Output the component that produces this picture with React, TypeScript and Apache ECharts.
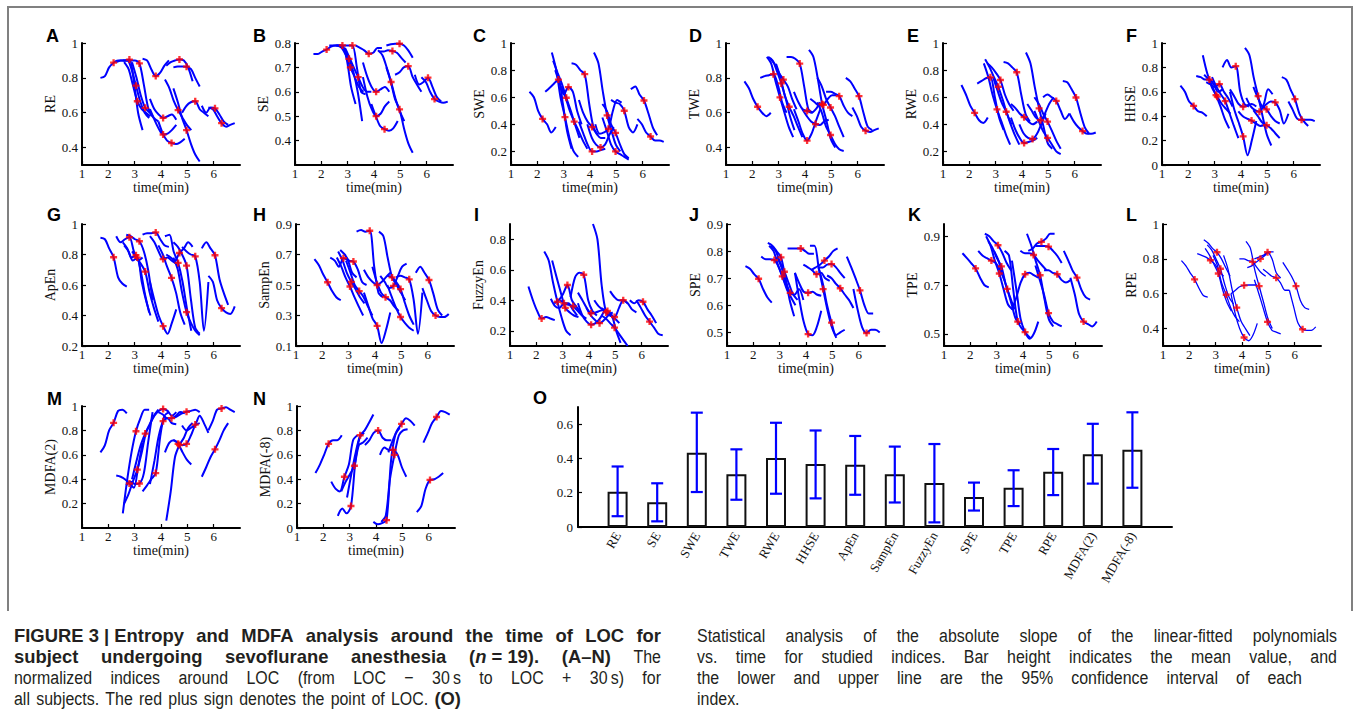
import React, { useEffect, useRef } from "react";
import * as echarts from "echarts";

// ---------------- DATA ----------------
// LOC time (min) of each subject and the sample offsets (min) around LOC
const LOC_TIMES = [2.2, 2.8, 3.05, 3.1, 3.18, 3.4, 3.8, 4.08, 4.08, 4.4, 4.65, 4.7, 4.97, 4.97, 5.3, 6.05, 6.3];
const TIME_OFFSETS = [-0.5, -0.33, -0.17, 0, 0.17, 0.33, 0.5];
const LOC_POINT = 3;
const TIME_TICKS = [1, 2, 3, 4, 5, 6];

const RE_VALUES = [
  [0.80, 0.81, 0.86, 0.887, 0.90, 0.90, 0.90],
  [0.89, 0.90, 0.90, 0.905, 0.78, 0.60, 0.50],
  [0.90, 0.90, 0.85, 0.755, 0.66, 0.60, 0.57],
  [0.89, 0.85, 0.76, 0.666, 0.62, 0.60, 0.58],
  [0.90, 0.90, 0.90, 0.883, 0.76, 0.63, 0.58],
  [0.89, 0.80, 0.70, 0.628, 0.60, 0.57, 0.55],
  [0.91, 0.90, 0.85, 0.81, 0.83, 0.87, 0.90],
  [0.68, 0.62, 0.59, 0.57, 0.58, 0.59, 0.56],
  [0.62, 0.56, 0.51, 0.475, 0.48, 0.50, 0.53],
  [0.55, 0.48, 0.44, 0.426, 0.42, 0.43, 0.45],
  [0.79, 0.74, 0.67, 0.615, 0.57, 0.53, 0.50],
  [0.87, 0.89, 0.90, 0.906, 0.90, 0.86, 0.78],
  [0.86, 0.865, 0.865, 0.864, 0.85, 0.80, 0.75],
  [0.74, 0.66, 0.57, 0.50, 0.42, 0.36, 0.32],
  [0.60, 0.64, 0.66, 0.666, 0.62, 0.60, 0.58],
  [0.64, 0.60, 0.63, 0.625, 0.59, 0.55, 0.53],
  [0.63, 0.62, 0.58, 0.54, 0.52, 0.53, 0.54],
];
const SE_VALUES = [
  [0.755, 0.755, 0.765, 0.773, 0.785, 0.79, 0.79],
  [0.79, 0.79, 0.79, 0.79, 0.73, 0.62, 0.55],
  [0.79, 0.79, 0.77, 0.735, 0.68, 0.60, 0.48],
  [0.79, 0.78, 0.75, 0.70, 0.66, 0.62, 0.60],
  [0.79, 0.79, 0.79, 0.79, 0.70, 0.60, 0.59],
  [0.78, 0.74, 0.70, 0.66, 0.62, 0.60, 0.60],
  [0.79, 0.78, 0.77, 0.756, 0.76, 0.78, 0.78],
  [0.72, 0.66, 0.62, 0.60, 0.61, 0.62, 0.60],
  [0.66, 0.58, 0.53, 0.50, 0.51, 0.54, 0.56],
  [0.55, 0.50, 0.46, 0.447, 0.44, 0.45, 0.48],
  [0.77, 0.75, 0.70, 0.64, 0.57, 0.52, 0.48],
  [0.765, 0.765, 0.77, 0.767, 0.76, 0.74, 0.72],
  [0.79, 0.795, 0.797, 0.797, 0.79, 0.77, 0.74],
  [0.70, 0.64, 0.57, 0.528, 0.45, 0.39, 0.35],
  [0.67, 0.68, 0.70, 0.705, 0.66, 0.63, 0.60],
  [0.67, 0.63, 0.64, 0.658, 0.62, 0.58, 0.56],
  [0.66, 0.64, 0.60, 0.57, 0.56, 0.555, 0.56],
];
const SWE_VALUES = [
  [0.64, 0.60, 0.50, 0.44, 0.40, 0.34, 0.38],
  [0.64, 0.67, 0.70, 0.73, 0.55, 0.35, 0.22],
  [0.93, 0.80, 0.60, 0.453, 0.30, 0.20, 0.16],
  [0.87, 0.78, 0.70, 0.596, 0.50, 0.40, 0.30],
  [0.80, 0.70, 0.62, 0.675, 0.64, 0.50, 0.40],
  [0.68, 0.60, 0.50, 0.42, 0.35, 0.28, 0.22],
  [0.85, 0.84, 0.80, 0.77, 0.55, 0.38, 0.32],
  [0.58, 0.48, 0.42, 0.38, 0.33, 0.30, 0.30],
  [0.42, 0.33, 0.25, 0.20, 0.20, 0.21, 0.22],
  [0.40, 0.30, 0.25, 0.23, 0.25, 0.32, 0.38],
  [0.93, 0.85, 0.65, 0.466, 0.35, 0.25, 0.20],
  [0.40, 0.33, 0.34, 0.367, 0.50, 0.58, 0.56],
  [0.55, 0.50, 0.40, 0.337, 0.25, 0.18, 0.15],
  [0.45, 0.35, 0.25, 0.20, 0.18, 0.16, 0.14],
  [0.58, 0.56, 0.55, 0.50, 0.38, 0.34, 0.40],
  [0.66, 0.68, 0.62, 0.576, 0.48, 0.38, 0.32],
  [0.44, 0.40, 0.34, 0.31, 0.28, 0.28, 0.27],
];
const TWE_VALUES = [
  [0.78, 0.74, 0.68, 0.634, 0.60, 0.58, 0.60],
  [0.80, 0.81, 0.815, 0.821, 0.76, 0.66, 0.60],
  [0.92, 0.88, 0.78, 0.688, 0.60, 0.52, 0.46],
  [0.92, 0.90, 0.84, 0.768, 0.68, 0.58, 0.50],
  [0.91, 0.88, 0.83, 0.79, 0.75, 0.68, 0.62],
  [0.88, 0.80, 0.70, 0.634, 0.58, 0.52, 0.46],
  [0.92, 0.92, 0.91, 0.882, 0.75, 0.62, 0.60],
  [0.72, 0.66, 0.62, 0.61, 0.60, 0.62, 0.66],
  [0.62, 0.55, 0.48, 0.44, 0.48, 0.55, 0.62],
  [0.62, 0.58, 0.55, 0.535, 0.53, 0.55, 0.56],
  [0.96, 0.92, 0.80, 0.65, 0.55, 0.45, 0.40],
  [0.68, 0.66, 0.64, 0.645, 0.68, 0.70, 0.70],
  [0.80, 0.75, 0.68, 0.63, 0.58, 0.52, 0.46],
  [0.66, 0.60, 0.52, 0.472, 0.42, 0.39, 0.38],
  [0.72, 0.72, 0.71, 0.695, 0.64, 0.60, 0.58],
  [0.80, 0.78, 0.74, 0.695, 0.60, 0.52, 0.50],
  [0.63, 0.58, 0.52, 0.497, 0.49, 0.50, 0.51],
];
const RWE_VALUES = [
  [0.69, 0.62, 0.54, 0.485, 0.43, 0.41, 0.45],
  [0.70, 0.72, 0.74, 0.747, 0.60, 0.45, 0.36],
  [0.85, 0.75, 0.62, 0.51, 0.42, 0.33, 0.25],
  [0.88, 0.82, 0.75, 0.677, 0.58, 0.48, 0.40],
  [0.85, 0.82, 0.78, 0.727, 0.62, 0.55, 0.50],
  [0.75, 0.65, 0.56, 0.493, 0.40, 0.32, 0.25],
  [0.86, 0.85, 0.82, 0.784, 0.62, 0.48, 0.42],
  [0.55, 0.52, 0.48, 0.453, 0.42, 0.40, 0.42],
  [0.45, 0.36, 0.30, 0.262, 0.27, 0.28, 0.30],
  [0.40, 0.33, 0.30, 0.292, 0.33, 0.40, 0.48],
  [0.93, 0.85, 0.68, 0.518, 0.38, 0.26, 0.22],
  [0.55, 0.50, 0.45, 0.43, 0.48, 0.55, 0.60],
  [0.60, 0.55, 0.48, 0.42, 0.35, 0.28, 0.22],
  [0.50, 0.42, 0.35, 0.30, 0.25, 0.20, 0.18],
  [0.60, 0.62, 0.60, 0.573, 0.50, 0.44, 0.48],
  [0.72, 0.71, 0.66, 0.598, 0.48, 0.38, 0.33],
  [0.48, 0.42, 0.38, 0.35, 0.33, 0.33, 0.34],
];
const HHSE_VALUES = [
  [0.65, 0.60, 0.52, 0.484, 0.44, 0.43, 0.40],
  [0.73, 0.72, 0.70, 0.70, 0.66, 0.60, 0.62],
  [0.90, 0.75, 0.66, 0.573, 0.48, 0.38, 0.30],
  [0.74, 0.70, 0.62, 0.56, 0.50, 0.46, 0.42],
  [0.68, 0.66, 0.64, 0.663, 0.60, 0.55, 0.48],
  [0.72, 0.64, 0.58, 0.524, 0.42, 0.32, 0.22],
  [0.80, 0.86, 0.80, 0.81, 0.60, 0.50, 0.48],
  [0.62, 0.56, 0.50, 0.478, 0.49, 0.50, 0.48],
  [0.60, 0.45, 0.35, 0.234, 0.08, 0.20, 0.36],
  [0.44, 0.40, 0.38, 0.364, 0.34, 0.32, 0.33],
  [0.96, 0.90, 0.72, 0.565, 0.40, 0.25, 0.16],
  [0.55, 0.48, 0.45, 0.437, 0.50, 0.62, 0.58],
  [0.64, 0.55, 0.48, 0.456, 0.40, 0.36, 0.34],
  [0.45, 0.40, 0.35, 0.326, 0.30, 0.26, 0.22],
  [0.46, 0.50, 0.52, 0.513, 0.45, 0.34, 0.42],
  [0.72, 0.70, 0.62, 0.54, 0.42, 0.36, 0.32],
  [0.52, 0.45, 0.38, 0.37, 0.37, 0.37, 0.36],
];
const APEN_VALUES = [
  [0.91, 0.90, 0.84, 0.782, 0.65, 0.61, 0.59],
  [0.92, 0.88, 0.90, 0.913, 0.82, 0.76, 0.78],
  [0.88, 0.84, 0.78, 0.795, 0.70, 0.55, 0.42],
  [0.86, 0.82, 0.76, 0.78, 0.62, 0.50, 0.40],
  [0.93, 0.92, 0.90, 0.887, 0.82, 0.70, 0.50],
  [0.82, 0.78, 0.74, 0.688, 0.55, 0.45, 0.36],
  [0.93, 0.94, 0.94, 0.945, 0.90, 0.86, 0.85],
  [0.92, 0.88, 0.82, 0.77, 0.78, 0.76, 0.74],
  [0.62, 0.50, 0.40, 0.33, 0.28, 0.35, 0.44],
  [0.86, 0.80, 0.72, 0.647, 0.55, 0.42, 0.34],
  [0.92, 0.93, 0.82, 0.745, 0.62, 0.45, 0.30],
  [0.80, 0.78, 0.76, 0.81, 0.84, 0.88, 0.85],
  [0.88, 0.85, 0.80, 0.727, 0.50, 0.32, 0.28],
  [0.78, 0.70, 0.55, 0.422, 0.35, 0.30, 0.27],
  [0.85, 0.82, 0.80, 0.788, 0.62, 0.30, 0.62],
  [0.84, 0.88, 0.84, 0.795, 0.64, 0.55, 0.47],
  [0.66, 0.62, 0.50, 0.448, 0.42, 0.41, 0.46],
];
const SAMPEN_VALUES = [
  [0.67, 0.63, 0.57, 0.518, 0.46, 0.42, 0.40],
  [0.68, 0.66, 0.62, 0.676, 0.66, 0.58, 0.55],
  [0.68, 0.62, 0.55, 0.49, 0.42, 0.36, 0.30],
  [0.72, 0.66, 0.58, 0.52, 0.47, 0.42, 0.38],
  [0.73, 0.70, 0.66, 0.654, 0.60, 0.52, 0.50],
  [0.66, 0.58, 0.50, 0.46, 0.42, 0.36, 0.30],
  [0.85, 0.86, 0.85, 0.856, 0.62, 0.45, 0.42],
  [0.60, 0.55, 0.52, 0.50, 0.52, 0.55, 0.58],
  [0.45, 0.36, 0.28, 0.232, 0.12, 0.20, 0.32],
  [0.62, 0.52, 0.45, 0.42, 0.40, 0.36, 0.33],
  [0.85, 0.82, 0.68, 0.55, 0.50, 0.45, 0.40],
  [0.56, 0.52, 0.48, 0.494, 0.56, 0.62, 0.64],
  [0.56, 0.55, 0.52, 0.473, 0.38, 0.30, 0.24],
  [0.50, 0.42, 0.35, 0.29, 0.25, 0.22, 0.20],
  [0.55, 0.56, 0.55, 0.537, 0.40, 0.18, 0.45],
  [0.58, 0.62, 0.58, 0.533, 0.44, 0.34, 0.30],
  [0.48, 0.40, 0.33, 0.30, 0.29, 0.29, 0.31],
];
const FUZZYEN_VALUES = [
  [0.49, 0.40, 0.33, 0.28, 0.29, 0.28, 0.27],
  [0.72, 0.66, 0.52, 0.39, 0.28, 0.20, 0.17],
  [0.41, 0.36, 0.35, 0.38, 0.38, 0.34, 0.30],
  [0.66, 0.55, 0.45, 0.35, 0.32, 0.30, 0.29],
  [0.38, 0.40, 0.44, 0.50, 0.40, 0.36, 0.32],
  [0.40, 0.38, 0.37, 0.36, 0.33, 0.30, 0.28],
  [0.42, 0.55, 0.58, 0.567, 0.40, 0.33, 0.30],
  [0.45, 0.40, 0.35, 0.315, 0.32, 0.33, 0.34],
  [0.38, 0.30, 0.26, 0.24, 0.25, 0.28, 0.33],
  [0.35, 0.30, 0.27, 0.25, 0.27, 0.30, 0.32],
  [0.90, 0.80, 0.50, 0.32, 0.30, 0.28, 0.25],
  [0.40, 0.36, 0.34, 0.33, 0.30, 0.20, 0.12],
  [0.35, 0.32, 0.30, 0.29, 0.35, 0.40, 0.38],
  [0.30, 0.28, 0.25, 0.22, 0.18, 0.14, 0.10],
  [0.46, 0.42, 0.40, 0.40, 0.38, 0.34, 0.32],
  [0.40, 0.38, 0.40, 0.39, 0.34, 0.30, 0.25],
  [0.40, 0.35, 0.30, 0.26, 0.22, 0.18, 0.17],
];
const SPE_VALUES = [
  [0.745, 0.735, 0.715, 0.698, 0.66, 0.63, 0.61],
  [0.78, 0.77, 0.77, 0.767, 0.74, 0.70, 0.66],
  [0.83, 0.82, 0.80, 0.777, 0.70, 0.62, 0.56],
  [0.82, 0.80, 0.75, 0.707, 0.66, 0.63, 0.60],
  [0.82, 0.80, 0.76, 0.724, 0.68, 0.64, 0.62],
  [0.78, 0.74, 0.69, 0.646, 0.64, 0.66, 0.62],
  [0.81, 0.81, 0.81, 0.81, 0.80, 0.79, 0.79],
  [0.72, 0.68, 0.65, 0.646, 0.65, 0.64, 0.635],
  [0.72, 0.62, 0.54, 0.494, 0.49, 0.52, 0.58],
  [0.75, 0.74, 0.73, 0.715, 0.72, 0.70, 0.69],
  [0.82, 0.82, 0.74, 0.66, 0.58, 0.52, 0.48],
  [0.73, 0.74, 0.75, 0.765, 0.78, 0.80, 0.81],
  [0.74, 0.74, 0.75, 0.752, 0.74, 0.72, 0.70],
  [0.74, 0.68, 0.60, 0.536, 0.49, 0.50, 0.51],
  [0.71, 0.70, 0.68, 0.663, 0.64, 0.62, 0.59],
  [0.78, 0.74, 0.70, 0.655, 0.60, 0.57, 0.57],
  [0.66, 0.58, 0.52, 0.498, 0.51, 0.51, 0.50],
];
const TPE_VALUES = [
  [0.83, 0.81, 0.79, 0.768, 0.73, 0.70, 0.69],
  [0.84, 0.82, 0.81, 0.80, 0.79, 0.76, 0.72],
  [0.91, 0.90, 0.88, 0.863, 0.83, 0.79, 0.76],
  [0.90, 0.86, 0.80, 0.747, 0.68, 0.62, 0.60],
  [0.88, 0.85, 0.81, 0.776, 0.70, 0.65, 0.60],
  [0.84, 0.80, 0.74, 0.684, 0.62, 0.56, 0.54],
  [0.84, 0.82, 0.68, 0.55, 0.52, 0.50, 0.48],
  [0.80, 0.68, 0.56, 0.507, 0.48, 0.50, 0.55],
  [0.60, 0.65, 0.71, 0.744, 0.75, 0.74, 0.73],
  [0.84, 0.83, 0.83, 0.823, 0.80, 0.78, 0.76],
  [0.91, 0.86, 0.80, 0.74, 0.64, 0.56, 0.53],
  [0.84, 0.85, 0.87, 0.877, 0.89, 0.91, 0.91],
  [0.86, 0.86, 0.86, 0.857, 0.84, 0.82, 0.79],
  [0.78, 0.72, 0.66, 0.585, 0.55, 0.54, 0.53],
  [0.76, 0.76, 0.75, 0.744, 0.72, 0.71, 0.72],
  [0.84, 0.80, 0.76, 0.73, 0.68, 0.65, 0.64],
  [0.73, 0.66, 0.58, 0.55, 0.54, 0.53, 0.55],
];
const RPE_VALUES = [
  [0.79, 0.76, 0.72, 0.682, 0.63, 0.59, 0.58],
  [0.83, 0.82, 0.81, 0.792, 0.77, 0.73, 0.70],
  [0.91, 0.89, 0.86, 0.838, 0.80, 0.75, 0.70],
  [0.86, 0.82, 0.77, 0.716, 0.62, 0.55, 0.50],
  [0.88, 0.85, 0.80, 0.743, 0.65, 0.58, 0.54],
  [0.82, 0.76, 0.66, 0.594, 0.52, 0.47, 0.44],
  [0.82, 0.74, 0.62, 0.52, 0.44, 0.40, 0.36],
  [0.60, 0.62, 0.64, 0.648, 0.65, 0.65, 0.65],
  [0.60, 0.48, 0.40, 0.349, 0.33, 0.36, 0.43],
  [0.80, 0.80, 0.79, 0.783, 0.75, 0.72, 0.70],
  [0.90, 0.86, 0.74, 0.644, 0.55, 0.46, 0.40],
  [0.75, 0.76, 0.78, 0.80, 0.82, 0.84, 0.84],
  [0.80, 0.81, 0.82, 0.838, 0.80, 0.72, 0.69],
  [0.68, 0.60, 0.52, 0.438, 0.39, 0.38, 0.37],
  [0.74, 0.72, 0.70, 0.691, 0.66, 0.62, 0.62],
  [0.78, 0.74, 0.70, 0.644, 0.56, 0.52, 0.51],
  [0.62, 0.52, 0.43, 0.396, 0.39, 0.39, 0.41],
];
const MDFA2_VALUES = [
  [0.62, 0.68, 0.80, 0.862, 0.96, 0.97, 0.94],
  [0.43, 0.42, 0.40, 0.365, 0.33, 0.50, 0.70],
  [0.12, 0.40, 0.62, 0.793, 0.90, 0.97, 0.97],
  [0.20, 0.28, 0.38, 0.478, 0.62, 0.78, 0.85],
  [0.35, 0.38, 0.36, 0.365, 0.45, 0.70, 0.95],
  [0.40, 0.55, 0.68, 0.774, 0.85, 0.92, 0.97],
  [0.30, 0.35, 0.40, 0.45, 0.75, 0.92, 0.95],
  [0.85, 0.92, 0.96, 0.975, 0.96, 0.92, 0.95],
  [0.36, 0.55, 0.75, 0.876, 0.90, 0.86, 0.85],
  [0.95, 0.93, 0.90, 0.90, 0.92, 0.95, 0.94],
  [0.62, 0.70, 0.72, 0.69, 0.62, 0.56, 0.52],
  [0.06, 0.30, 0.58, 0.68, 0.74, 0.82, 0.86],
  [0.90, 0.92, 0.94, 0.953, 0.96, 0.97, 0.95],
  [0.72, 0.70, 0.68, 0.69, 0.76, 0.84, 0.86],
  [0.84, 0.80, 0.82, 0.848, 0.92, 0.86, 0.78],
  [0.42, 0.50, 0.58, 0.645, 0.72, 0.80, 0.86],
  [0.80, 0.88, 0.97, 0.98, 0.99, 0.97, 0.95],
];
const MDFA8_VALUES = [
  [0.45, 0.52, 0.60, 0.69, 0.72, 0.72, 0.76],
  [0.38, 0.32, 0.30, 0.42, 0.52, 0.72, 0.76],
  [0.10, 0.16, 0.12, 0.18, 0.55, 0.74, 0.78],
  null,
  [0.30, 0.38, 0.44, 0.51, 0.68, 0.70, 0.74],
  [0.25, 0.45, 0.62, 0.76, 0.80, 0.86, 0.93],
  null,
  [0.68, 0.72, 0.78, 0.80, 0.74, 0.72, 0.72],
  null,
  [0.05, 0.03, 0.04, 0.064, 0.55, 0.76, 0.82],
  [0.60, 0.66, 0.64, 0.64, 0.60, 0.50, 0.42],
  [0.05, 0.10, 0.40, 0.60, 0.76, 0.80, 0.81],
  [0.62, 0.72, 0.80, 0.853, 0.90, 0.88, 0.84],
  null,
  null,
  [0.13, 0.18, 0.32, 0.394, 0.40, 0.42, 0.45],
  [0.70, 0.78, 0.86, 0.91, 0.96, 0.95, 0.93],
];

// Panel O: absolute slope statistics
const BAR_NAMES = ["RE", "SE", "SWE", "TWE", "RWE", "HHSE", "ApEn", "SampEn", "FuzzyEn", "SPE", "TPE", "RPE", "MDFA(2)", "MDFA(-8)"];
const BAR_MEAN = [0.206, 0.145, 0.433, 0.308, 0.402, 0.367, 0.363, 0.308, 0.257, 0.175, 0.229, 0.322, 0.425, 0.451];
const BAR_LOW = [0.063, 0.033, 0.204, 0.159, 0.194, 0.167, 0.188, 0.143, 0.027, 0.096, 0.122, 0.186, 0.253, 0.229];
const BAR_HIGH = [0.353, 0.255, 0.667, 0.453, 0.608, 0.563, 0.531, 0.469, 0.484, 0.259, 0.331, 0.455, 0.602, 0.669];
const BAR_Y_TICKS = [0, 0.2, 0.4, 0.6];

// panel definitions: letter, y label, values, y range, y ticks
const PANELS = [
  { letter: "A", label: "RE", values: RE_VALUES, yMin: 0.3, yMax: 1, ticks: [0.4, 0.6, 0.8, 1] },
  { letter: "B", label: "SE", values: SE_VALUES, yMin: 0.3, yMax: 0.8, ticks: [0.4, 0.5, 0.6, 0.7, 0.8] },
  { letter: "C", label: "SWE", values: SWE_VALUES, yMin: 0.1, yMax: 1, ticks: [0.2, 0.4, 0.6, 0.8, 1] },
  { letter: "D", label: "TWE", values: TWE_VALUES, yMin: 0.3, yMax: 1, ticks: [0.4, 0.6, 0.8, 1] },
  { letter: "E", label: "RWE", values: RWE_VALUES, yMin: 0.1, yMax: 1, ticks: [0.2, 0.4, 0.6, 0.8, 1] },
  { letter: "F", label: "HHSE", values: HHSE_VALUES, yMin: 0, yMax: 1, ticks: [0, 0.2, 0.4, 0.6, 0.8, 1] },
  { letter: "G", label: "ApEn", values: APEN_VALUES, yMin: 0.2, yMax: 1, ticks: [0.2, 0.4, 0.6, 0.8, 1] },
  { letter: "H", label: "SampEn", values: SAMPEN_VALUES, yMin: 0.1, yMax: 0.9, ticks: [0.1, 0.3, 0.5, 0.7, 0.9] },
  { letter: "I", label: "FuzzyEn", values: FUZZYEN_VALUES, yMin: 0.1, yMax: 0.9, ticks: [0.2, 0.4, 0.6, 0.8] },
  { letter: "J", label: "SPE", values: SPE_VALUES, yMin: 0.45, yMax: 0.9, ticks: [0.5, 0.6, 0.7, 0.8, 0.9] },
  { letter: "K", label: "TPE", values: TPE_VALUES, yMin: 0.45, yMax: 0.95, ticks: [0.5, 0.7, 0.9] },
  { letter: "L", label: "RPE", values: RPE_VALUES, yMin: 0.3, yMax: 1, ticks: [0.4, 0.6, 0.8, 1] },
  { letter: "M", label: "MDFA(2)", values: MDFA2_VALUES, yMin: 0, yMax: 1, ticks: [0.2, 0.4, 0.6, 0.8, 1] },
  { letter: "N", label: "MDFA(-8)", values: MDFA8_VALUES, yMin: 0, yMax: 1, ticks: [0, 0.2, 0.4, 0.6, 0.8, 1] },
];

// ---------------- LAYOUT ----------------
const W = 1357;
const H = 726;
const PANEL_W = 158;
const PANEL_H = 122;
const PANEL_POS = [
  [82, 43], [295, 43], [511, 43], [726, 43], [943, 43], [1162, 43],
  [82, 224], [296, 224], [510, 224], [727, 224], [944, 224], [1163, 224],
  [82, 406], [297, 406],
];
const LETTER_POS = [
  [46, 36], [253, 36], [473, 36], [689, 36], [907, 36], [1126, 36],
  [47, 215], [253, 215], [474, 215], [689, 215], [908, 215], [1126, 215],
  [47, 399], [253, 399], [533, 398],
];
const BAR_BOX = { left: 578, top: 407, width: 594, height: 120 };

const SERIF = "'Liberation Serif', 'Times New Roman', serif";
const SANS = "'Liberation Sans', Arial, sans-serif";
const BLUE = "#0000ff";
const PLUS = "path://M2,0H4V2H6V4H4V6H2V4H0V2H2Z";

// caption tokens: [text, style, joinedToPrevious]
type Tok = [string, string, number?];
const CAPTION_LINES: { x0: number; x1: number; base: number; toks: Tok[] }[] = [
  {
    x0: 14, x1: 661, base: 642,
    toks: [["FIGURE\u00a03\u00a0|\u00a0Entropy", "b"], ["and", "b"], ["MDFA", "b"], ["analysis", "b"], ["around", "b"], ["the", "b"], ["time", "b"], ["of", "b"], ["LOC", "b"], ["for", "b"]],
  },
  {
    x0: 14, x1: 661, base: 663,
    toks: [["subject", "b"], ["undergoing", "b"], ["sevoflurane", "b"], ["anesthesia", "b"], ["(", "b"], ["n", "bi", 1], ["\u00a0=\u00a019).", "b", 1], ["(A\u2013N)", "b"], ["The", "n"]],
  },
  {
    x0: 14, x1: 661, base: 684,
    toks: [["normalized", "n"], ["indices", "n"], ["around", "n"], ["LOC", "n"], ["(from", "n"], ["LOC", "n"], ["\u2212", "n"], ["30\u2009s", "n"], ["to", "n"], ["LOC", "n"], ["+", "n"], ["30\u2009s)", "n"], ["for", "n"]],
  },
  {
    x0: 14, x1: 461, base: 705,
    toks: [["all", "n"], ["subjects.", "n"], ["The", "n"], ["red", "n"], ["plus", "n"], ["sign", "n"], ["denotes", "n"], ["the", "n"], ["point", "n"], ["of", "n"], ["LOC.", "n"], ["(O)", "b"]],
  },
  {
    x0: 697, x1: 1337, base: 642,
    toks: [["Statistical", "n"], ["analysis", "n"], ["of", "n"], ["the", "n"], ["absolute", "n"], ["slope", "n"], ["of", "n"], ["the", "n"], ["linear-fitted", "n"], ["polynomials", "n"]],
  },
  {
    x0: 697, x1: 1337, base: 663,
    toks: [["vs.", "n"], ["time", "n"], ["for", "n"], ["studied", "n"], ["indices.", "n"], ["Bar", "n"], ["height", "n"], ["indicates", "n"], ["the", "n"], ["mean", "n"], ["value,", "n"], ["and", "n"]],
  },
  {
    x0: 697, x1: 1302, base: 684,
    toks: [["the", "n"], ["lower", "n"], ["and", "n"], ["upper", "n"], ["line", "n"], ["are", "n"], ["the", "n"], ["95%", "n"], ["confidence", "n"], ["interval", "n"], ["of", "n"], ["each", "n"]],
  },
  {
    x0: 697, x1: 0, base: 705,
    toks: [["index.", "n"]],
  },
];
const CAPTION_SIZE = 19;
const NORMAL_SQUEEZE = 0.84;
const BOLD_SQUEEZE = 0.97;

function buildCaption(): any[] {
  const family = SANS;
  const ctx = document.createElement("canvas").getContext("2d")!;
  const els: any[] = [];
  const fontOf = (st: string) => ({
    fontWeight: st.includes("b") ? "bold" : "normal",
    fontStyle: st.includes("i") ? "italic" : "normal",
    squeeze: st.includes("b") ? BOLD_SQUEEZE : NORMAL_SQUEEZE,
  });
  CAPTION_LINES.forEach((line) => {
    const widths = line.toks.map((t) => {
      const f = fontOf(t[1]);
      ctx.font = `${f.fontStyle} ${f.fontWeight} ${CAPTION_SIZE}px ${family}`;
      return ctx.measureText(t[0]).width * f.squeeze;
    });
    const total = widths.reduce((a, b) => a + b, 0);
    const nGaps = line.toks.filter((t, i) => i > 0 && !t[2]).length;
    let gap = 4;
    if (nGaps > 0 && line.x1 > 0) gap = Math.max(3, (line.x1 - line.x0 - total) / nGaps);
    let x = line.x0;
    line.toks.forEach((t, i) => {
      if (i > 0 && !t[2]) x += gap;
      const f = fontOf(t[1]);
      els.push({
        type: "text",
        x,
        y: line.base - CAPTION_SIZE * 0.35,
        scaleX: f.squeeze,
        silent: true,
        style: {
          text: t[0],
          fill: "#231f20",
          fontFamily: family,
          fontSize: CAPTION_SIZE,
          fontWeight: f.fontWeight,
          fontStyle: f.fontStyle,
          align: "left",
          verticalAlign: "middle",
        },
      });
      x += widths[i];
    });
  });
  return els;
}

const fmt = (v: number) => String(Math.round(v * 100) / 100);

function buildOption(): any {
  const grid: any[] = [];
  const xAxis: any[] = [];
  const yAxis: any[] = [];
  const series: any[] = [];
  const axisLine = { show: true, onZero: false, lineStyle: { color: "#000", width: 2 } };
  const tickStyle = { color: "#000", width: 1.2 };
  const labelStyle = { fontFamily: SERIF, fontSize: 13, color: "#111" };
  const nameStyle = { fontFamily: SERIF, fontSize: 14, color: "#111" };

  PANELS.forEach((p, i) => {
    const [left, top] = PANEL_POS[i];
    grid.push({ left, top, width: PANEL_W, height: PANEL_H, containLabel: false });
    xAxis.push({
      type: "value", gridIndex: i, min: 1, max: 7,
      axisLine,
      axisTick: { show: true, inside: true, length: 4, customValues: TIME_TICKS, lineStyle: tickStyle },
      axisLabel: { show: true, customValues: TIME_TICKS, margin: 2, formatter: fmt, ...labelStyle },
      splitLine: { show: false },
      name: "time(min)", nameLocation: "middle", nameGap: 11, nameTextStyle: nameStyle,
    });
    yAxis.push({
      type: "value", gridIndex: i, min: p.yMin, max: p.yMax,
      axisLine,
      axisTick: { show: true, inside: true, length: 4, customValues: p.ticks, lineStyle: tickStyle },
      axisLabel: { show: true, customValues: p.ticks, margin: 4, formatter: fmt, ...labelStyle },
      splitLine: { show: false },
      name: p.label, nameLocation: "middle", nameGap: 24, nameTextStyle: nameStyle,
    });
    const markers: number[][] = [];
    p.values.forEach((row, s) => {
      if (!row) return;
      const loc = LOC_TIMES[s];
      series.push({
        type: "line", xAxisIndex: i, yAxisIndex: i, silent: true,
        data: TIME_OFFSETS.map((o, k) => [loc + o, row[k]]),
        showSymbol: false, symbol: "none", smooth: 0.3,
        lineStyle: { color: BLUE, width: p.letter === "L" ? 1.3 : 2 },
        z: 2,
      });
      markers.push([loc, row[LOC_POINT]]);
    });
    series.push({
      type: "scatter", xAxisIndex: i, yAxisIndex: i, silent: true,
      data: markers, symbol: PLUS, symbolSize: 7,
      itemStyle: { color: "#ff0000" }, z: 5,
    });
  });

  // Panel O
  const oi = PANELS.length;
  grid.push({ ...BAR_BOX, containLabel: false });
  const barTicks = BAR_NAMES.map((_, k) => k + 1);
  xAxis.push({
    type: "value", gridIndex: oi, min: 0, max: 15,
    axisLine,
    axisTick: { show: false },
    axisLabel: {
      show: true, customValues: barTicks, rotate: 60, margin: 6,
      formatter: (v: number) => BAR_NAMES[Math.round(v) - 1] || "",
      ...labelStyle,
    },
    splitLine: { show: false },
  });
  yAxis.push({
    type: "value", gridIndex: oi, min: 0, max: 0.7,
    axisLine,
    axisTick: { show: true, inside: true, length: 4, customValues: BAR_Y_TICKS, lineStyle: tickStyle },
    axisLabel: { show: true, customValues: BAR_Y_TICKS, margin: 5, formatter: fmt, ...labelStyle },
    splitLine: { show: false },
  });
  series.push({
    type: "bar", xAxisIndex: oi, yAxisIndex: oi, silent: true,
    data: BAR_MEAN.map((m, k) => [k + 1, m]),
    barWidth: 20,
    itemStyle: { color: "#ffffff", borderColor: "#111", borderWidth: 2 },
    z: 2,
  });
  series.push({
    type: "custom", xAxisIndex: oi, yAxisIndex: oi, silent: true,
    data: BAR_MEAN.map((_, k) => [k + 1, BAR_LOW[k], BAR_HIGH[k]]),
    encode: { x: 0, y: [1, 2] },
    z: 6,
    renderItem: (_params: any, api: any) => {
      const x = api.value(0);
      const lo = api.coord([x, api.value(1)]);
      const hi = api.coord([x, api.value(2)]);
      const cap = 6;
      const style = { stroke: BLUE, lineWidth: 2.2 };
      return {
        type: "group",
        children: [
          { type: "line", shape: { x1: lo[0], y1: lo[1], x2: hi[0], y2: hi[1] }, style },
          { type: "line", shape: { x1: lo[0] - cap, y1: lo[1], x2: lo[0] + cap, y2: lo[1] }, style },
          { type: "line", shape: { x1: hi[0] - cap, y1: hi[1], x2: hi[0] + cap, y2: hi[1] }, style },
        ],
      };
    },
  });

  const letters = [...PANELS.map((p) => p.letter), "O"];
  const graphic: any[] = [
    { type: "line", silent: true, shape: { x1: 7, y1: 7, x2: 1353, y2: 7 }, style: { stroke: "#808080", lineWidth: 2 } },
    { type: "line", silent: true, shape: { x1: 8, y1: 6, x2: 8, y2: 611 }, style: { stroke: "#808080", lineWidth: 2 } },
    { type: "line", silent: true, shape: { x1: 1352, y1: 6, x2: 1352, y2: 611 }, style: { stroke: "#808080", lineWidth: 2 } },
    ...letters.map((l, k) => ({
      type: "text", silent: true,
      x: LETTER_POS[k][0], y: LETTER_POS[k][1],
      style: { text: l, fontFamily: SANS, fontWeight: "bold", fontSize: 18, fill: "#000", align: "left", verticalAlign: "middle" },
    })),
    ...buildCaption(),
  ];

  return {
    animation: false,
    backgroundColor: "#ffffff",
    grid, xAxis, yAxis, series, graphic,
  };
}

export default function App() {
  const ref = useRef<HTMLDivElement>(null);
  useEffect(() => {
    if (!ref.current) return;
    const chart = echarts.init(ref.current, undefined, { renderer: "svg", width: W, height: H });
    chart.setOption(buildOption());
    return () => chart.dispose();
  }, []);
  return (
    <div
      ref={ref}
      style={{ position: "fixed", left: 0, top: 0, width: W, height: H, background: "#fff" }}
    />
  );
}
